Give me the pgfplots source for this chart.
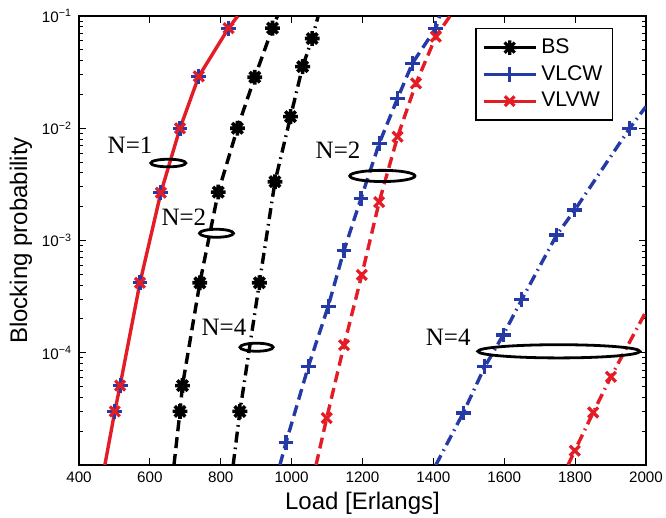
\documentclass[border=0pt]{standalone}
\usepackage{fontspec}
\setmainfont{Liberation Sans}
\newfontfamily\tnr{Liberation Serif}
\usepackage{pgfplots}
\pgfplotsset{compat=1.18}
\definecolor{myred}{RGB}{228,28,38}
\definecolor{myblue}{RGB}{38,58,165}
\pgfdeclareplotmark{ast8}{%
 \pgfpathmoveto{\pgfqpoint{-\pgfplotmarksize}{0pt}}\pgfpathlineto{\pgfqpoint{\pgfplotmarksize}{0pt}}%
 \pgfpathmoveto{\pgfqpoint{0pt}{-\pgfplotmarksize}}\pgfpathlineto{\pgfqpoint{0pt}{\pgfplotmarksize}}%
 \pgfpathmoveto{\pgfqpoint{-0.707\pgfplotmarksize}{-0.707\pgfplotmarksize}}\pgfpathlineto{\pgfqpoint{0.707\pgfplotmarksize}{0.707\pgfplotmarksize}}%
 \pgfpathmoveto{\pgfqpoint{-0.707\pgfplotmarksize}{0.707\pgfplotmarksize}}\pgfpathlineto{\pgfqpoint{0.707\pgfplotmarksize}{-0.707\pgfplotmarksize}}%
 \pgfusepathqstroke}
\pgfplotsset{
 dsh/.style={dash pattern=on 5.5pt off 3pt},
 dshdot/.style={dash pattern=on 5.5pt off 2.5pt on 0.8pt off 2.5pt},
 mBS/.style={black, only marks, mark=ast8, mark size=3.7pt, line width=1.8pt, forget plot},
 mVC/.style={myblue, only marks, mark=+, mark size=3.7pt, line width=1.6pt, forget plot},
 mVV/.style={myred, only marks, mark=x, mark size=3.5pt, line width=1.6pt, forget plot},
}
\begin{document}
\begin{tikzpicture}
\begin{axis}[
 scale only axis, width=283.5pt, height=224.5pt,
 xmin=400, xmax=2000, ymode=log, ymin=1e-5, ymax=1e-1,
 xtick={400,600,...,2000},
 ytick={1e-4,1e-3,1e-2,1e-1},
 yticklabels={10\textsuperscript{−4},10\textsuperscript{−3},10\textsuperscript{−2},10\textsuperscript{−1}},
 minor ytick={2e-5,3e-5,4e-5,5e-5,6e-5,7e-5,8e-5,9e-5,2e-4,3e-4,4e-4,5e-4,6e-4,7e-4,8e-4,9e-4,2e-3,3e-3,4e-3,5e-3,6e-3,7e-3,8e-3,9e-3,2e-2,3e-2,4e-2,5e-2,6e-2,7e-2,8e-2,9e-2},
 /pgf/number format/assume math mode=true,
 /pgf/number format/set thousands separator={},
 tick label style={font=\fontsize{7.6}{8}\selectfont},
 tick align=inside, major tick length=3.5pt, minor tick length=2pt,
 axis line style={line width=0.6pt}, every tick/.style={black, line width=0.5pt},
 xlabel={Load [Erlangs]}, ylabel={Blocking probability},
 label style={font=\fontsize{12}{14}\selectfont},
 xlabel style={yshift=2pt},
 ylabel style={yshift=-2pt},
 clip=true,
 legend style={at={(0.942,0.973)}, anchor=north east, draw=black, line width=0.6pt,
   font=\fontsize{10.6}{12}\selectfont, inner sep=3pt, row sep=0.5pt},
 legend cell align=left,
 legend image code/.code={\draw[#1,mark repeat=2,mark phase=2] plot coordinates {(0pt,0pt)(13pt,0pt)(26pt,0pt)};},
]
\addlegendimage{black, line width=1.6pt, mark=ast8, mark size=3.6pt}
\addlegendentry{BS}
\addlegendimage{myblue, line width=1.6pt, mark=+, mark size=3.6pt}
\addlegendentry{VLCW}
\addlegendimage{myred, line width=1.6pt, mark=x, mark size=3.4pt}
\addlegendentry{VLVW}

% ---- N=1 : all schemes coincide
\addplot[myred, line width=1.7pt, no markers, forget plot] coordinates {(473,1e-5)(501,3e-5)(516,5.1e-5)(572,4.2e-4)(631,2.67e-3)(685,1e-2)(738,2.9e-2)(822,7.8e-2)(848,1e-1)};
\addplot[mVC] coordinates {(501,3e-5)(516,5.1e-5)(572,4.2e-4)(631,2.67e-3)(685,1e-2)(738,2.9e-2)(822,7.8e-2)};
\addplot[mVV] coordinates {(501,3e-5)(516,5.1e-5)(572,4.2e-4)(631,2.67e-3)(685,1e-2)(738,2.9e-2)(822,7.8e-2)};

% ---- BS N=2
\addplot[black, line width=1.7pt, dsh, no markers, forget plot] coordinates {(668,1e-5)(685,3e-5)(692,5.1e-5)(741,4.2e-4)(793,2.7e-3)(847,1e-2)(896,2.85e-2)(946,7.8e-2)(960,1e-1)};
\addplot[mBS] coordinates {(685,3e-5)(692,5.1e-5)(741,4.2e-4)(793,2.7e-3)(847,1e-2)(896,2.85e-2)(946,7.8e-2)};

% ---- BS N=4
\addplot[black, line width=1.7pt, dshdot, no markers, forget plot] coordinates {(835,1e-5)(854,3e-5)(909,4.2e-4)(953,3.34e-3)(997,1.27e-2)(1031,3.54e-2)(1058,6.3e-2)(1075,1e-1)};
\addplot[mBS] coordinates {(854,3e-5)(909,4.2e-4)(953,3.34e-3)(997,1.27e-2)(1031,3.54e-2)(1058,6.3e-2)};

% ---- VLCW N=2
\addplot[myblue, line width=1.7pt, dsh, no markers, forget plot] coordinates {(967,1e-5)(984,1.58e-5)(1047,7.5e-5)(1103,2.58e-4)(1148,8.2e-4)(1196,2.38e-3)(1247,7.3e-3)(1299,1.85e-2)(1341,3.8e-2)(1407,7.8e-2)(1418,1e-1)};
\addplot[mVC] coordinates {(984,1.58e-5)(1047,7.5e-5)(1103,2.58e-4)(1148,8.2e-4)(1196,2.38e-3)(1247,7.3e-3)(1299,1.85e-2)(1341,3.8e-2)(1407,7.8e-2)};

% ---- VLVW N=2
\addplot[myred, line width=1.7pt, dsh, no markers, forget plot] coordinates {(1069,1e-5)(1099,2.62e-5)(1148,1.17e-4)(1198,4.94e-4)(1247,2.2e-3)(1299,8.4e-3)(1351,2.51e-2)(1407,6.55e-2)(1447,1e-1)};
\addplot[mVV] coordinates {(1099,2.62e-5)(1148,1.17e-4)(1198,4.94e-4)(1247,2.2e-3)(1299,8.4e-3)(1351,2.51e-2)(1407,6.55e-2)};

% ---- VLCW N=4
\addplot[myblue, line width=1.7pt, dshdot, no markers, forget plot] coordinates {(1407,1e-5)(1484,2.9e-5)(1545,7.5e-5)(1597,1.44e-4)(1649,2.96e-4)(1748,1.12e-3)(1799,1.87e-3)(1954,1e-2)(2000,1.56e-2)};
\addplot[mVC] coordinates {(1484,2.9e-5)(1545,7.5e-5)(1597,1.44e-4)(1649,2.96e-4)(1748,1.12e-3)(1799,1.87e-3)(1954,1e-2)};

% ---- VLVW N=4
\addplot[myred, line width=1.7pt, dshdot, no markers, forget plot] coordinates {(1780,1e-5)(1799,1.34e-5)(1851,2.94e-5)(1901,6.1e-5)(2000,2.33e-4)};
\addplot[mVV] coordinates {(1799,1.34e-5)(1851,2.94e-5)(1901,6.1e-5)};

% ---- annotations
\draw[line width=1.4pt] (axis cs:652,4.9e-3) ellipse [x radius=8.75pt, y radius=1.9pt];
\draw[line width=1.4pt] (axis cs:788,1.16e-3) ellipse [x radius=8.5pt, y radius=2pt];
\draw[line width=1.4pt] (axis cs:901,1.12e-4) ellipse [x radius=8.3pt, y radius=2pt];
\draw[line width=1.4pt] (axis cs:1256,3.76e-3) ellipse [x radius=16.3pt, y radius=2.8pt];
\draw[line width=1.4pt] (axis cs:1754,1.03e-4) ellipse [x radius=40.5pt, y radius=3.3pt];
\node[font=\tnr\fontsize{12.5}{14}\selectfont, inner sep=0pt] at (axis cs:544,7.1e-3) {N=1};
\node[font=\tnr\fontsize{12.5}{14}\selectfont, inner sep=0pt] at (axis cs:696,1.61e-3) {N=2};
\node[font=\tnr\fontsize{12.5}{14}\selectfont, inner sep=0pt] at (axis cs:809,1.70e-4) {N=4};
\node[font=\tnr\fontsize{12.5}{14}\selectfont, inner sep=0pt] at (axis cs:1131,6.33e-3) {N=2};
\node[font=\tnr\fontsize{12.5}{14}\selectfont, inner sep=0pt] at (axis cs:1442,1.37e-4) {N=4};
\end{axis}
\pgfresetboundingbox
\path (-39.5pt,-26.5pt) rectangle (293.5pt,232.5pt);
\end{tikzpicture}
\end{document}
